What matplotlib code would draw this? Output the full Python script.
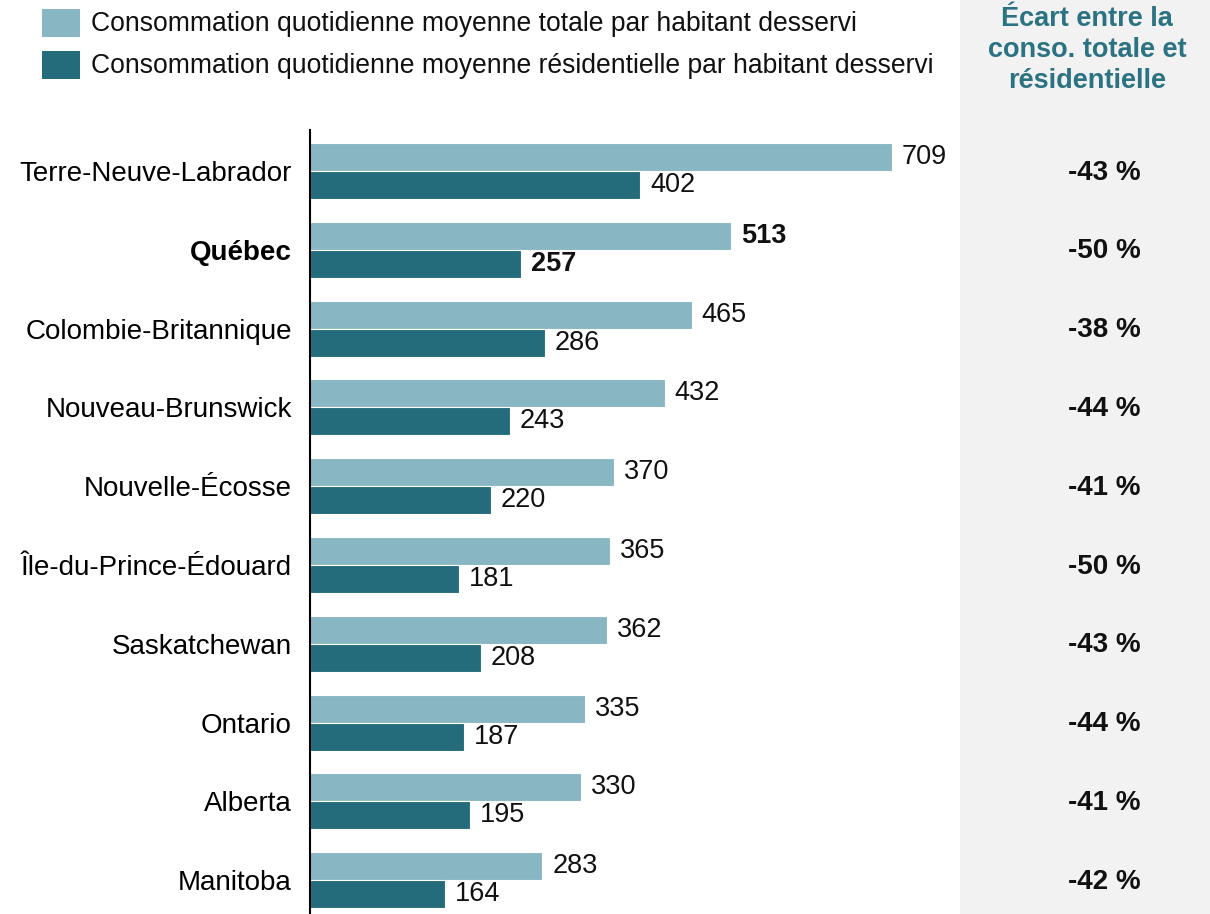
import matplotlib
matplotlib.use("Agg")
import matplotlib.pyplot as plt
import matplotlib.transforms as mtransforms
from matplotlib.patches import Rectangle

plt.rcParams['font.family'] = ['Liberation Sans', 'DejaVu Sans']

provinces = ["Terre-Neuve-Labrador", "Québec", "Colombie-Britannique", "Nouveau-Brunswick",
             "Nouvelle-Écosse", "Île-du-Prince-Édouard", "Saskatchewan", "Ontario",
             "Alberta", "Manitoba"]
totale = [709, 513, 465, 432, 370, 365, 362, 335, 330, 283]
residentielle = [402, 257, 286, 243, 220, 181, 208, 187, 195, 164]
ecart = ["-43 %", "-50 %", "-38 %", "-44 %", "-41 %", "-50 %", "-43 %", "-44 %", "-41 %", "-42 %"]
legend_labels = ["Consommation quotidienne moyenne totale par habitant desservi",
                 "Consommation quotidienne moyenne résidentielle par habitant desservi"]
header = "Écart entre la\nconso. totale et\nrésidentielle"
highlight = "Québec"

LIGHT = "#88b6c2"
DARK = "#246b7b"
HEAD = "#2b7282"
FS = 19.5

W, H = 1210, 914
fig = plt.figure(figsize=(W / 100, H / 100), dpi=100)

# gray panel
fig.patches.append(Rectangle((960 / W, 0), (W - 960) / W, 1, transform=fig.transFigure,
                             facecolor="#f2f2f2", edgecolor="none", zorder=-5))

ax = fig.add_axes([310 / W, 0, 650 / W, 784 / H])
ax.set_facecolor("none")
h = 28 / 78.8
ys = list(range(len(provinces)))
ax.barh([y - h / 2 for y in ys], totale, height=h, color=LIGHT, edgecolor="white", linewidth=0.8)
ax.barh([y + h / 2 for y in ys], residentielle, height=h, color=DARK, edgecolor="white", linewidth=0.8)
ax.set_xlim(0, 650 / 0.821)
ax.set_ylim(9.429, -0.520)

for y, p, t, r in zip(ys, provinces, totale, residentielle):
    fw = "bold" if p == highlight else "normal"
    ax.text(t + 12, y - h / 2, f"{t}", va="center", ha="left", fontsize=FS, fontweight=fw, color="#111111")
    ax.text(r + 12, y + h / 2, f"{r}", va="center", ha="left", fontsize=FS, fontweight=fw, color="#111111")

ax.set_yticks(ys)
ax.set_yticklabels(provinces, fontsize=20)
for lbl in ax.get_yticklabels():
    if lbl.get_text() == highlight:
        lbl.set_fontweight("bold")
ax.tick_params(axis="y", length=0, pad=13)
ax.set_xticks([])
for s in ["top", "right", "bottom"]:
    ax.spines[s].set_visible(False)
ax.spines["left"].set_linewidth(1.5)
ax.spines["left"].set_color("black")

trans = mtransforms.blended_transform_factory(fig.transFigure, ax.transData)
for y, e in zip(ys, ecart):
    ax.text(1104 / W, y + 0.02, e, transform=trans, ha="center", va="center",
            fontsize=20, fontweight="bold", color="#111111", clip_on=False, zorder=10)

fig.text(1087 / W, 1 - 50 / H, header, ha="center", va="center", fontsize=FS,
         fontweight="bold", color=HEAD, linespacing=1.25)

# legend
for i, (lab, col) in enumerate(zip(legend_labels, [LIGHT, DARK])):
    top = 9 + i * 42
    fig.patches.append(Rectangle((42 / W, 1 - (top + 28) / H), 38 / W, 28 / H,
                                 transform=fig.transFigure, facecolor=col, edgecolor="none"))
    fig.text(91 / W, 1 - (top + 15) / H, lab, ha="left", va="center", fontsize=19.1, color="#111111")

fig.savefig("out.png", dpi=100)
